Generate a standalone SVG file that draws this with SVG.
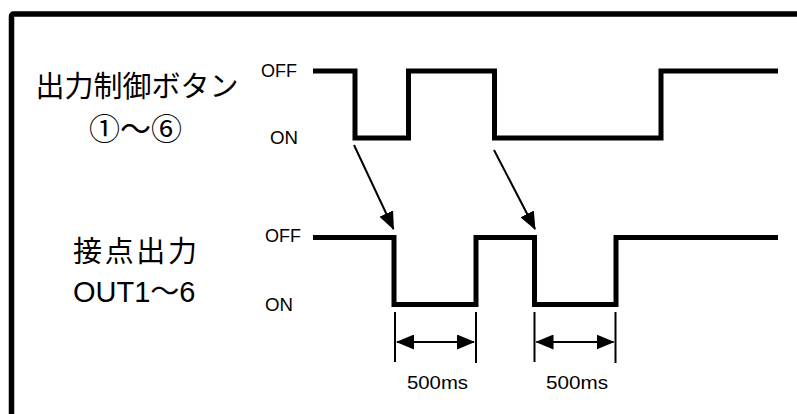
<svg xmlns="http://www.w3.org/2000/svg" width="797" height="414" viewBox="0 0 797 414">
  <style>
    .frame { fill: none; stroke: #000; stroke-width: 5.5; }
    .wave { fill: none; stroke: #000; stroke-width: 5; stroke-linejoin: miter; stroke-linecap: butt; }
    .conn { fill: none; stroke: #000; stroke-width: 2; }
    .tick { fill: none; stroke: #000; stroke-width: 2; }
    .big { font-family: "Liberation Sans", "Noto Sans CJK JP", sans-serif; font-size: 29px; fill: #000; }
    .small { font-family: "Liberation Sans", "Noto Sans CJK JP", sans-serif; font-size: 17.5px; fill: #000; }
  </style>
  <defs>
    <marker id="ah" markerUnits="userSpaceOnUse" markerWidth="18" markerHeight="15" viewBox="0 0 18 15" refX="17" refY="7.5" orient="auto-start-reverse">
      <path d="M0,0 L18,7.5 L0,15 z" fill="#000"/>
    </marker>
  </defs>
  <rect width="797" height="414" fill="#fff"/>
  <rect id="frame" class="frame" x="11.5" y="14" width="800" height="420" rx="2"/>

  <g id="button-label">
    <text class="big" x="137" y="97" text-anchor="middle">出力制御ボタン</text>
    <text class="big" x="135.5" y="140" text-anchor="middle" style="font-size:31px">①～⑥</text>
  </g>
  <g id="output-label">
    <text class="big" x="73" y="262" textLength="124" lengthAdjust="spacing">接点出力</text>
    <text class="big" x="73" y="302">OUT1～6</text>
  </g>

  <g id="button-wave">
    <text class="small" x="261" y="77" textLength="36" lengthAdjust="spacingAndGlyphs">OFF</text>
    <text class="small" x="270" y="144" textLength="28" lengthAdjust="spacingAndGlyphs">ON</text>
    <path class="wave" d="M313,71 H355 V138 H408.5 V71 H494.5 V138 H661 V71 H778"/>
  </g>
  <g id="output-wave">
    <text class="small" x="265" y="242" textLength="36" lengthAdjust="spacingAndGlyphs">OFF</text>
    <text class="small" x="265" y="311" textLength="28" lengthAdjust="spacingAndGlyphs">ON</text>
    <path class="wave" d="M313,237.5 H394 V304.5 H476 V237.5 H534.5 V304.5 H616 V237.5 H778"/>
  </g>

  <g id="connectors">
    <line class="conn" x1="354" y1="145" x2="393.5" y2="229" marker-end="url(#ah)"/>
    <line class="conn" x1="494" y1="150" x2="535" y2="229" marker-end="url(#ah)"/>
  </g>

  <g id="dim1">
    <line class="tick" x1="395" y1="312" x2="395" y2="362"/>
    <line class="tick" x1="476" y1="312" x2="476" y2="363"/>
    <line class="conn" x1="397" y1="342" x2="474" y2="342" marker-start="url(#ah)" marker-end="url(#ah)"/>
    <text class="small" x="407" y="389" textLength="61" lengthAdjust="spacingAndGlyphs">500ms</text>
  </g>
  <g id="dim2">
    <line class="tick" x1="534.5" y1="312" x2="534.5" y2="362"/>
    <line class="tick" x1="615.5" y1="312" x2="615.5" y2="363"/>
    <line class="conn" x1="536.5" y1="342" x2="613.5" y2="342" marker-start="url(#ah)" marker-end="url(#ah)"/>
    <text class="small" x="546" y="389" textLength="62" lengthAdjust="spacingAndGlyphs">500ms</text>
  </g>
</svg>
